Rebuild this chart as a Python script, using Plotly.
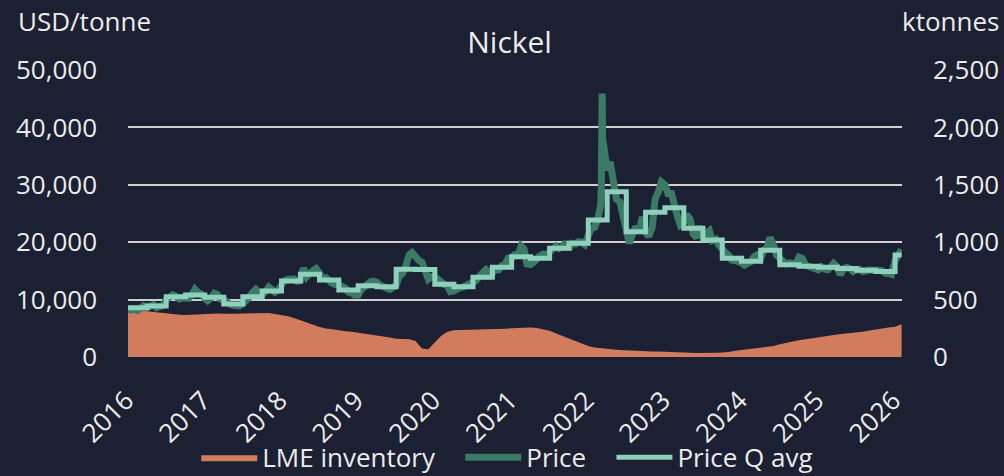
import pandas as pd
import plotly.graph_objects as go

# semi-monthly LME nickel cash price, USD/tonne (1st and 15th of month), Jan 2016 - Feb 2026
price_vals = [
    # 2016
    8700, 8200, 8300, 8100, 8500, 8900, 8600, 9000, 9100, 8600, 8700, 9000,
    10000, 10400, 10800, 10600, 10100, 10300, 10400, 10200, 10900, 11800, 11200, 11000,
    # 2017
    10200, 9800, 10300, 11100, 10900, 10100, 10000, 9500, 9200, 9000, 8800, 8900,
    9300, 9700, 10400, 11200, 11800, 11300, 10900, 11300, 12200, 11800, 11300, 11600,
    # 2018
    12500, 13300, 13500, 13700, 13600, 13200, 13300, 15500, 14000, 14600, 15200, 15400,
    14600, 13700, 13800, 13200, 12800, 12600, 12700, 12300, 12000, 11300, 11200, 10800,
    # 2019
    10800, 11700, 12400, 12600, 13100, 13200, 13000, 12500, 12200, 12100, 11800, 12100,
    12500, 14000, 14600, 15800, 17800, 18200, 17300, 16900, 16500, 14800, 13600, 14000,
    # 2020
    14000, 13600, 12800, 12600, 12500, 11400, 11500, 11900, 12100, 12200, 12500, 12800,
    12900, 13300, 14100, 14700, 15200, 14700, 14500, 15300, 15200, 15900, 16200, 17200,
    # 2021
    17200, 17800, 17800, 19300, 18800, 16200, 16100, 16500, 17300, 17600, 17900, 17800,
    18300, 18900, 19300, 18900, 19200, 20000, 18800, 19800, 19700, 20100, 20000, 19600,
    # 2022
    20900, 22400, 22600, 24000, 26500, 37000, 32500, 34000, 30500, 27500, 27000, 25000,
    22000, 19800, 21500, 22700, 21800, 24400, 21700, 21000, 22500, 27500, 28800, 30500,
    # 2023
    30000, 28500, 28500, 26000, 24500, 23000, 23500, 24800, 24000, 21500, 20800, 22800,
    20800, 21500, 22000, 20300, 20500, 19500, 18700, 18200, 17700, 16900, 16800, 16700,
    # 2024
    16400, 16000, 16200, 16600, 17500, 17800, 17200, 18600, 19000, 20800, 19500, 17800,
    17200, 16600, 16200, 16400, 16300, 16200, 17400, 17200, 16000, 15700, 15600, 15400,
    # 2025
    15200, 15700, 15300, 15200, 15700, 16300, 15700, 14300, 15400, 15600, 15400, 14900,
    15200, 15300, 14900, 15100, 15200, 15100, 15200, 15100, 15000, 14600, 14600, 14400,
    # 2026
    16800, 18000, 18700,
]

# March 2022 short squeeze, daily points
spike_dates = ["2022-03-04", "2022-03-07", "2022-03-08", "2022-03-09", "2022-03-10"]
spike_vals = [29500, 42000, 45900, 43000, 38000]

# quarterly average price, Q1 2016 - Q1 2026
q_vals = [
    8590, 8880, 10510, 10800,
    10400, 9230, 10500, 11500,
    13240, 14400, 13400, 11670,
    12400, 12250, 15300, 15250,
    12660, 12250, 13900, 15620,
    17470, 17190, 18930, 19800,
    23870, 28800, 21830, 25200,
    26010, 22420, 20380, 17190,
    16700, 18600, 16050, 15800,
    15650, 15400, 15100, 14900,
    17770,
]

# LME nickel inventory, ktonnes, month start Jan 2016 - Feb 2026
inventory = [
    412, 418, 405, 398, 392, 385, 378, 372, 368, 366, 368, 372,
    376, 380, 378, 376, 375, 377, 380, 382, 384, 386, 384, 375,
    366, 355, 340, 322, 300, 282, 262, 248, 241, 232, 225, 221,
    212, 206, 198, 190, 183, 170, 158, 154, 154, 140, 75, 67,
    130, 185, 220, 233, 235, 236, 238, 239, 240, 241, 242, 245,
    250, 253, 256, 258, 252, 240, 229, 205, 182, 160, 135, 113,
    95, 82, 75, 70, 66, 62, 58, 55, 52, 50, 48, 47,
    46, 44, 42, 40, 36, 34, 33, 34, 36, 40, 43, 55,
    62, 68, 72, 78, 85, 95, 110, 125, 135, 145, 155, 163,
    170, 180, 190, 197, 203, 208, 213, 220, 230, 240, 248, 256,
    264, 285,
]

end_date = "2026-02-01"

price_dates = pd.date_range("2016-01-01", end_date, freq="SMS")
price = pd.Series(price_vals, index=price_dates)
price = pd.concat([price, pd.Series(spike_vals, index=pd.to_datetime(spike_dates))]).sort_index()

q_dates = list(pd.date_range("2016-01-01", "2026-01-01", freq="QS")) + [pd.Timestamp(end_date)]
q_line = q_vals + [q_vals[-1]]

# closed polygon for the inventory area so the legend shows a plain block
inv_dates = list(pd.date_range("2016-01-01", end_date, freq="MS"))
inv_x = inv_dates + inv_dates[::-1]
inv_y = inventory + [0] * len(inventory)

BG = "#1b2033"
FONT = "Open Sans"
TXT = "#ececec"
GRID = "#cfcfcf"
FS = 26
PAD = "\u00a0" * 3  # extra room between legend entries

fig = go.Figure()
fig.add_trace(go.Scatter(
    x=inv_x, y=inv_y, name="LME inventory" + PAD, yaxis="y",
    mode="lines", fill="toself", line=dict(width=0, color="#d07c5d"),
    fillcolor="#d07c5d",
))
fig.add_trace(go.Scatter(
    x=price.index, y=price.values, name="Price" + PAD, yaxis="y2",
    mode="lines", line=dict(color="#3b7a64", width=7),
))
fig.add_trace(go.Scatter(
    x=q_dates, y=q_line, name="Price Q avg", yaxis="y2",
    mode="lines", line=dict(color="#8ed0bc", width=5, shape="hv"),
))

fig.update_layout(
    width=1004, height=476,
    paper_bgcolor=BG, plot_bgcolor=BG,
    font=dict(family=FONT, size=FS, color=TXT),
    margin=dict(l=128, r=102, t=70, b=119, autoexpand=False),
    title=dict(text="Nickel", x=0.493, xref="paper", y=0.91, yref="container",
               xanchor="center", yanchor="middle", font=dict(size=30, color=TXT)),
    xaxis=dict(
        range=["2016-01-01", "2026-02-03"],
        tickvals=pd.date_range("2016-01-01", "2026-01-01", freq="YS"),
        tickformat="%Y", tickangle=-45, showgrid=False, zeroline=False,
        showline=False, ticks="", ticklabelstandoff=22, ticklabelshift=-2,
        automargin=False,
    ),
    yaxis=dict(
        range=[0, 2500], dtick=500, side="right", tickformat=",",
        showgrid=True, gridcolor=GRID, gridwidth=2, zeroline=False,
        ticklabelstandoff=30, automargin=False,
    ),
    yaxis2=dict(
        range=[0, 50000], dtick=10000, side="left", overlaying="y",
        tickformat=",", showgrid=False, zeroline=False,
        ticklabelstandoff=30, automargin=False,
    ),
    legend=dict(
        orientation="h", x=0.49, xanchor="center", xref="paper",
        y=-0.35, yanchor="middle", yref="paper",
        font=dict(size=FS), itemwidth=56, bgcolor="rgba(0,0,0,0)",
    ),
    annotations=[
        dict(text="USD/tonne", xref="paper", yref="paper", x=-0.145, y=1.17,
             xanchor="left", yanchor="middle", showarrow=False, font=dict(size=FS)),
        dict(text="ktonnes", xref="paper", yref="paper", x=1.128, y=1.17,
             xanchor="right", yanchor="middle", showarrow=False, font=dict(size=FS)),
    ],
)

fig.write_html("out.html", config={"displayModeBar": False},
               post_script="document.body.style.margin='0';")
